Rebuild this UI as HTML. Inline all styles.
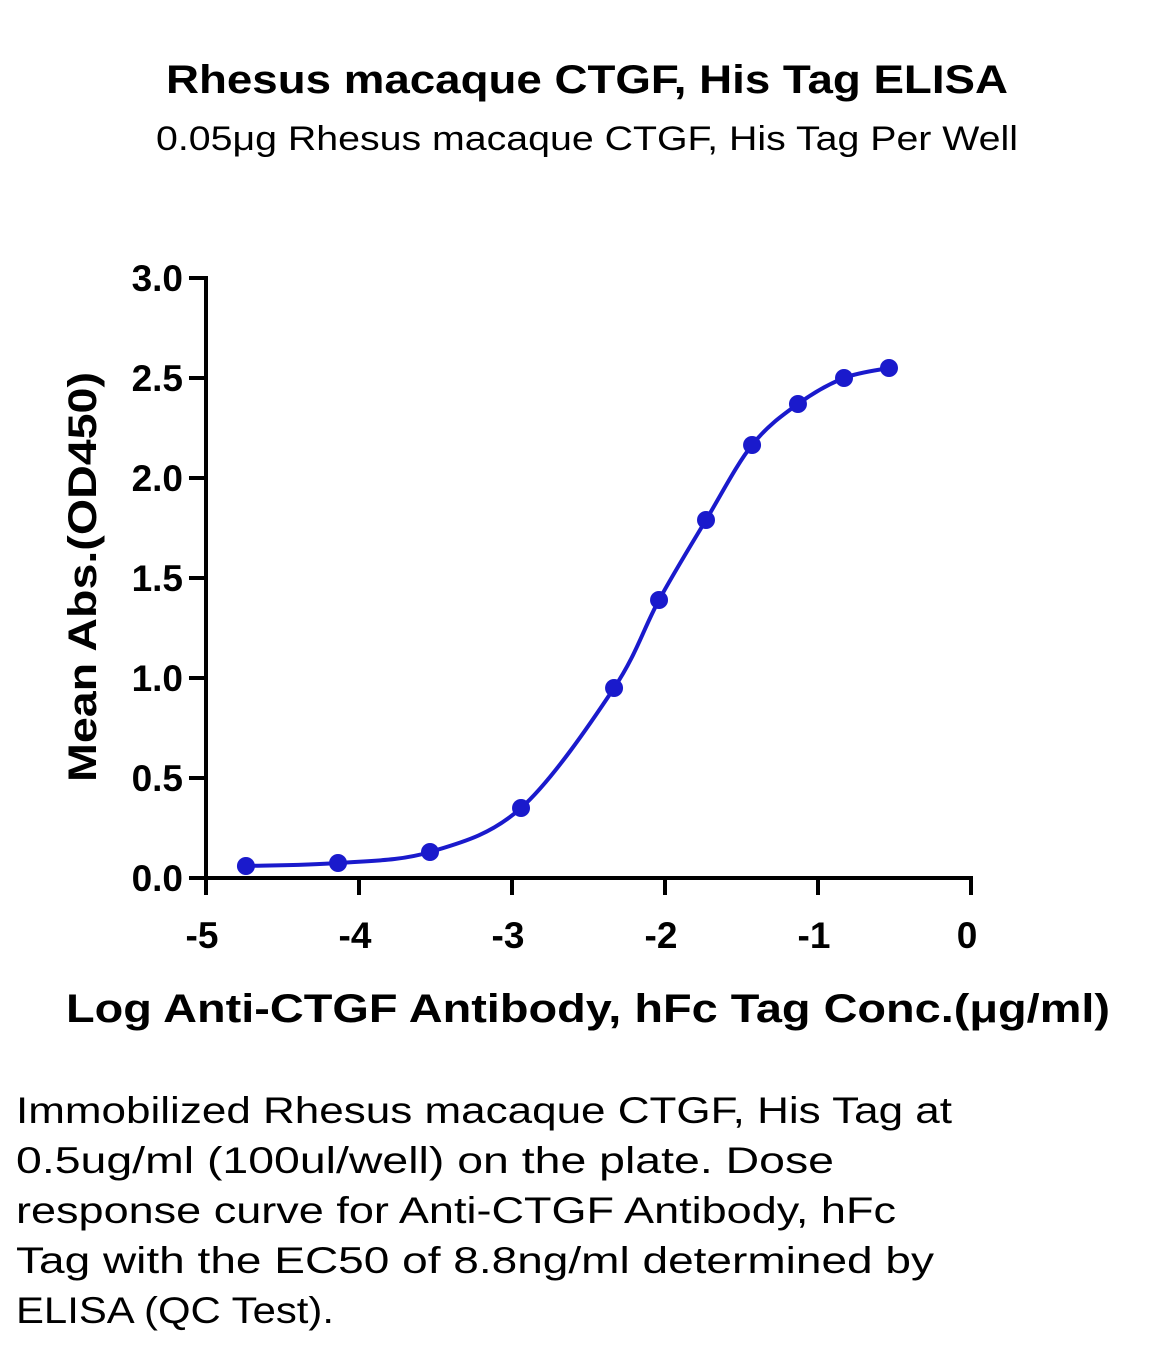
<!DOCTYPE html>
<html><head><meta charset="utf-8"><style>
html,body{margin:0;padding:0;background:#fff}
svg{display:block;font-family:"Liberation Sans",sans-serif}
</style></head><body>
<svg width="1156" height="1347" viewBox="0 0 1156 1347">
<text x="587" y="93" text-anchor="middle" font-size="40" font-weight="bold" textLength="842" lengthAdjust="spacingAndGlyphs">Rhesus macaque CTGF, His Tag ELISA</text>
<text x="587" y="150" text-anchor="middle" font-size="34" textLength="862" lengthAdjust="spacingAndGlyphs">0.05μg Rhesus macaque CTGF, His Tag Per Well</text>
<g id="axes"></g>
<g id="series"></g>
<text transform="translate(96,577) rotate(-90)" text-anchor="middle" font-size="40" font-weight="bold" textLength="410" lengthAdjust="spacingAndGlyphs">Mean Abs.(OD450)</text>
<text x="588" y="1022" text-anchor="middle" font-size="40" font-weight="bold" textLength="1044" lengthAdjust="spacingAndGlyphs">Log Anti-CTGF Antibody, hFc Tag Conc.(μg/ml)</text>
<g font-size="37">
<text x="16" y="1123" textLength="936" lengthAdjust="spacingAndGlyphs">Immobilized Rhesus macaque CTGF, His Tag at</text>
<text x="16" y="1173" textLength="818" lengthAdjust="spacingAndGlyphs">0.5ug/ml (100ul/well) on the plate. Dose</text>
<text x="16" y="1223" textLength="880" lengthAdjust="spacingAndGlyphs">response curve for Anti-CTGF Antibody, hFc</text>
<text x="16" y="1273" textLength="918" lengthAdjust="spacingAndGlyphs">Tag with the EC50 of 8.8ng/ml determined by</text>
<text x="16" y="1323" textLength="318" lengthAdjust="spacingAndGlyphs">ELISA (QC Test).</text>
</g>
</svg>
<script>
const xValues=[-4.739,-4.137,-3.536,-2.941,-2.333,-2.039,-1.732,-1.431,-1.131,-0.830,-0.536];
const yValues=[0.06,0.075,0.13,0.35,0.95,1.39,1.79,2.165,2.37,2.50,2.55];
const xTicks=[-5,-4,-3,-2,-1,0];
const yTicks=[0,0.5,1,1.5,2,2.5,3];
const yTickLabels=["0.0","0.5","1.0","1.5","2.0","2.5","3.0"];
const NS="http://www.w3.org/2000/svg";
const sx=v=>206+(v+5)*153;
const sy=v=>878-v*200;
function mk(tag,attrs,parent){const e=document.createElementNS(NS,tag);for(const k in attrs)e.setAttribute(k,attrs[k]);parent.appendChild(e);return e;}
const ax=document.getElementById('axes');
let l=mk('line',{x1:206,y1:276,x2:206,y2:880,stroke:'#000','stroke-width':4},ax);


l=mk('line',{x1:204,y1:878,x2:973,y2:878,stroke:'#000','stroke-width':4},ax);


yTicks.forEach((v,i)=>{
 const t=mk('line',{x1:189,y1:sy(v),x2:206,y2:sy(v),stroke:'#000','stroke-width':4},ax);
 
 
 const tx=mk('text',{x:183,y:sy(v)+13,'text-anchor':'end','font-size':37,'font-weight':'bold'},ax);
 tx.textContent=yTickLabels[i];
 
 
});
xTicks.forEach(v=>{
 const t=mk('line',{x1:sx(v),y1:878,x2:sx(v),y2:895,stroke:'#000','stroke-width':4},ax);
 
 
 const tx=mk('text',{x:sx(v)-4,y:948,'text-anchor':'middle','font-size':37,'font-weight':'bold'},ax);
 tx.textContent=String(v);
 
 
});
const sg=document.getElementById('series');
const P=xValues.map((x,i)=>[sx(x),sy(yValues[i])]);
let d='M'+P[0][0]+','+P[0][1];
for(let i=0;i<P.length-1;i++){
 const p0=P[Math.max(0,i-1)],p1=P[i],p2=P[i+1],p3=P[Math.min(P.length-1,i+2)];
 const c1=[p1[0]+(p2[0]-p0[0])/6,p1[1]+(p2[1]-p0[1])/6];
 const c2=[p2[0]-(p3[0]-p1[0])/6,p2[1]-(p3[1]-p1[1])/6];
 d+=' C'+c1+' '+c2+' '+p2;
}
const path=mk('path',{d:d,fill:'none',stroke:'#1a1acc','stroke-width':4},sg);


P.forEach(p=>{
 const c=mk('circle',{cx:p[0],cy:p[1],r:9,fill:'#1a1acc'},sg);
 
 
});
</script>
</body></html>
